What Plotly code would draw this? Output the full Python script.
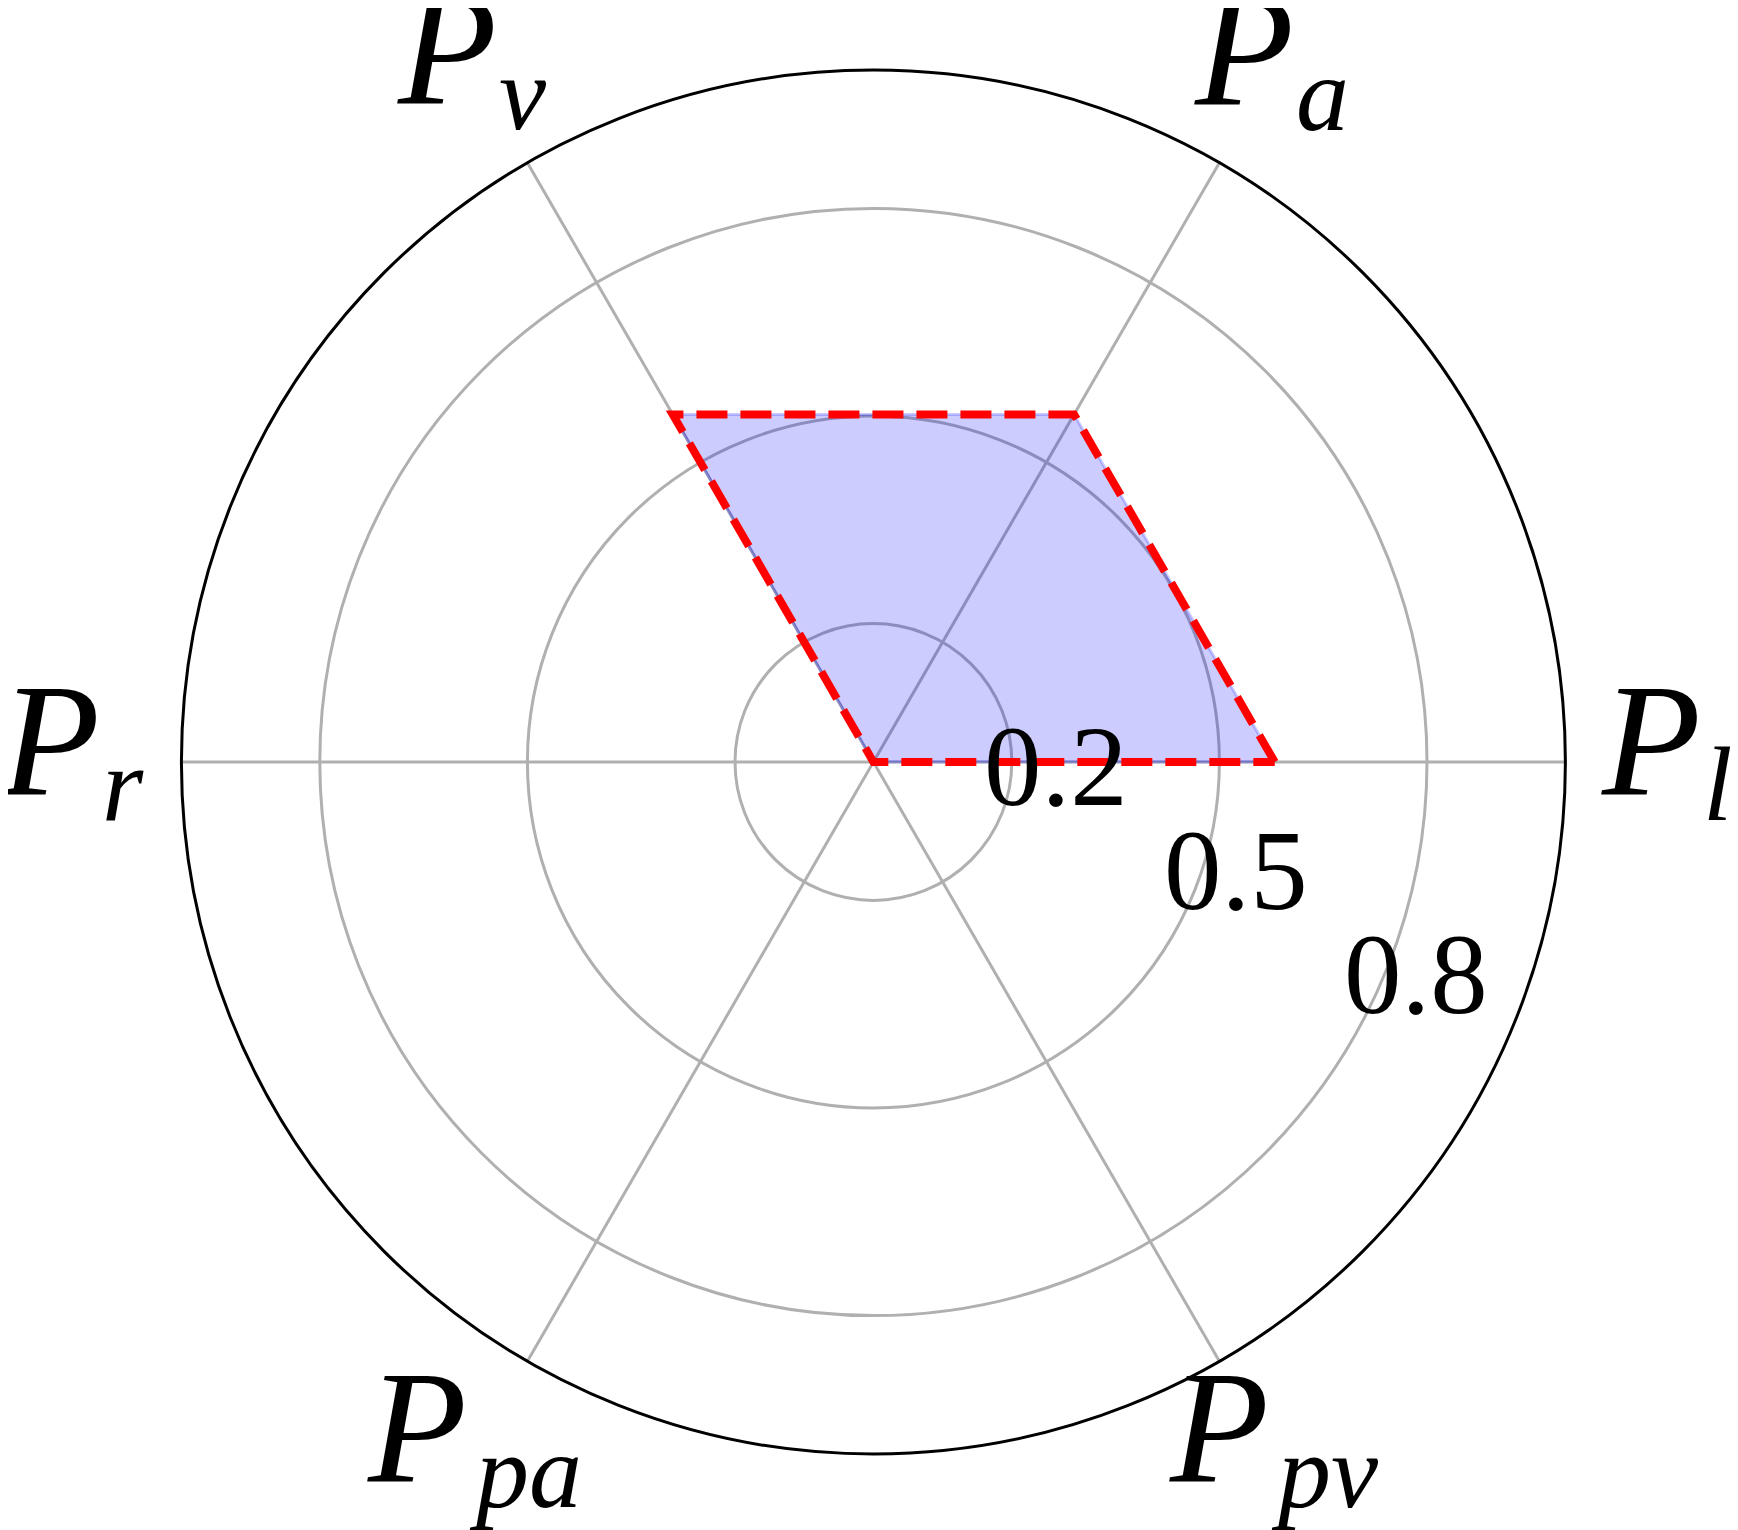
import math
import plotly.graph_objects as go

# ---- data ----
categories = ["P_l", "P_a", "P_v", "P_r", "P_pa", "P_pv"]
label_main = ["P", "P", "P", "P", "P", "P"]
label_sub = ["l", "a", "v", "r", "pa", "pv"]
values = [0.58, 0.58, 0.58, 0.0, 0.0, 0.0]
radial_ticks = [0.2, 0.5, 0.8]
radial_tick_labels = ["0.2", "0.5", "0.8"]

# ---- layout geometry (pixels) ----
W, H = 1738, 1530
CX, CY, R = 873.0, 760.5, 692.0
DX, DY = -7.6, -6.5  # page offset correction (body margin)

theta_closed = categories + [categories[0]]
r_closed = values + [values[0]]

fig = go.Figure()
fig.add_trace(go.Scatterpolar(
    r=r_closed, theta=theta_closed, mode="lines", fill="toself",
    fillcolor="rgba(0,0,255,0.2)", line=dict(color="rgba(0,0,255,0.2)", width=3),
    hoverinfo="skip", showlegend=False))
fig.add_trace(go.Scatterpolar(
    r=r_closed, theta=theta_closed, mode="lines",
    line=dict(color="#ff0000", width=8, dash="31px,13px"),
    hoverinfo="skip", showlegend=False))

fig.update_layout(
    width=W, height=H, paper_bgcolor="white", plot_bgcolor="white",
    margin=dict(l=0, r=0, t=0, b=0), showlegend=False,
    polar=dict(
        domain=dict(x=[(CX + DX - R) / W, (CX + DX + R) / W],
                    y=[1 - (CY + DY + R) / H, 1 - (CY + DY - R) / H]),
        bgcolor="white",
        angularaxis=dict(type="category", categoryarray=categories, rotation=0,
                         direction="counterclockwise", showticklabels=False, ticks="",
                         showgrid=True, gridcolor="#b0b0b0", gridwidth=2.5,
                         showline=True, linecolor="black", linewidth=3),
        radialaxis=dict(range=[0, 1], tickvals=radial_ticks, showticklabels=False, ticks="",
                        showgrid=True, gridcolor="#b0b0b0", gridwidth=2.5, showline=False),
    ),
)

def px2paper(x, y):
    return (x + DX) / W, 1 - (y + DY) / H

FS_MAIN, FS_SUB, FS_TICK = 162, 106, 115
FONT = "Liberation Serif"
MID = 0.37  # box middle sits this many em above the baseline

# angular label placement: (P baseline y, split x between P and subscript)
label_pos = {
    "P_l": (798, 1702),
    "P_a": (108, 1295),
    "P_v": (107, 498),
    "P_r": (798, 101),
    "P_pa": (1485, 468),
    "P_pv": (1485, 1270),
}
for cat, main, sub in zip(categories, label_main, label_sub):
    base, split = label_pos[cat]
    xp, yp = px2paper(split, base - MID * FS_MAIN)
    fig.add_annotation(x=xp, y=yp, xref="paper", yref="paper", text="<i>%s</i>" % main,
                       showarrow=False, xanchor="right", yanchor="middle", borderpad=0,
                       font=dict(family=FONT, size=FS_MAIN, color="black"))
    xp, yp = px2paper(split, base + 24 - MID * FS_SUB)
    fig.add_annotation(x=xp, y=yp, xref="paper", yref="paper", text="<i>%s</i>" % sub,
                       showarrow=False, xanchor="left", yanchor="middle", borderpad=0,
                       font=dict(family=FONT, size=FS_SUB, color="black"))

# radial tick labels along -30 deg with offset
ang = math.radians(-30)
for rv, lab in zip(radial_ticks, radial_tick_labels):
    x = CX + rv * R * math.cos(ang) + 63
    y = CY - rv * R * math.sin(ang) - 60 - 4.5
    xp, yp = px2paper(x, y)
    fig.add_annotation(x=xp, y=yp, xref="paper", yref="paper", text=lab, showarrow=False,
                       xanchor="center", yanchor="middle",
                       font=dict(family=FONT, size=FS_TICK, color="black"))

fig.write_html("out.html")
